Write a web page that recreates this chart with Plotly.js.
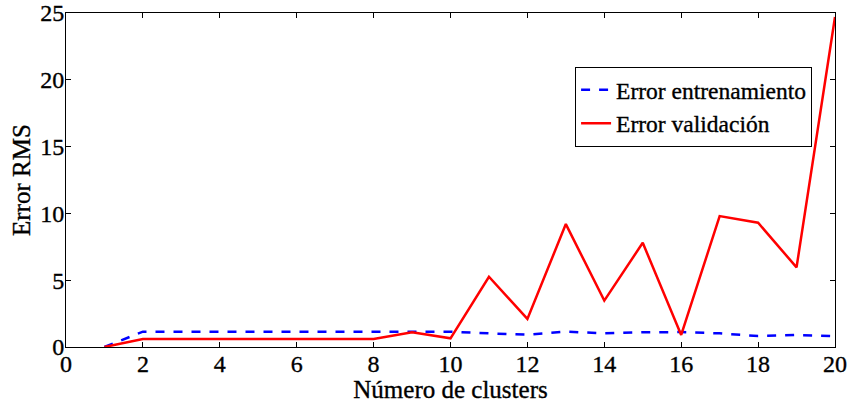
<!DOCTYPE html>
<html>
<head>
<meta charset="utf-8">
<script src="https://cdn.plot.ly/plotly-3.0.1.min.js"></script>
<style>html,body{margin:0;padding:0;background:#fff;}#chart{width:849px;height:403px;}
#chart text{stroke:#000;stroke-width:0.35px;}</style>
</head>
<body>
<div id="chart"></div>
<script>
const clusters = [1,2,3,4,5,6,7,8,9,10,11,12,13,14,15,16,17,18,19,20];
const errorEntrenamiento = [0,1.15,1.15,1.15,1.15,1.15,1.14,1.12,1.12,1.15,1.02,0.92,1.15,1.02,1.1,1.12,1.02,0.82,0.9,0.82];
const errorValidacion = [0,0.6,0.6,0.6,0.6,0.62,0.6,0.6,1.1,0.65,5.26,2.1,9.2,3.47,7.8,0.9,9.8,9.3,5.96,24.7];
const xTicks = [0,2,4,6,8,10,12,14,16,18,20];
const yTicks = [0,5,10,15,20,25];

const family = '"Liberation Serif", "Times New Roman", serif';
const font = {family: family, size: 25, color: '#000'};
const tickFont = {family: family, size: 24, color: '#000'};
const legendFont = {family: family, size: 23.5, color: '#000'};

const traces = [
  {x: clusters, y: errorEntrenamiento, name: 'Error entrenamiento', mode: 'lines',
   line: {color: '#0000ff', width: 2.5, dash: 'dash'}},
  {x: clusters, y: errorValidacion, name: 'Error validación', mode: 'lines',
   line: {color: '#ff0000', width: 2.5}}
];

const axisCommon = {showline: true, linecolor: '#000', linewidth: 1, mirror: 'ticks',
  ticks: 'inside', ticklen: 5, tickcolor: '#000', showgrid: false, zeroline: false,
  tickfont: tickFont};

const layout = {
  width: 849, height: 403,
  margin: {l: 66, r: 14, t: 13, b: 56},
  paper_bgcolor: '#fff', plot_bgcolor: '#fff',
  font: font,
  showlegend: true,
  legend: {x: 0.662, y: 0.719, xanchor: 'left', yanchor: 'middle',
    bordercolor: '#000', borderwidth: 1, bgcolor: '#fff', font: legendFont,
    itemwidth: 30, tracegroupgap: 0},
  xaxis: Object.assign({}, axisCommon, {range: [0, 20], tickvals: xTicks, ticktext: xTicks.map(String),
    ticklabelstandoff: -5,
    title: {text: 'Número de clusters', font: font, standoff: 0}}),
  yaxis: Object.assign({}, axisCommon, {range: [0, 25], tickvals: yTicks, ticktext: yTicks.map(String),
    ticklabelstandoff: -4,
    title: {text: 'Error RMS', font: font, standoff: 2}})
};

Plotly.newPlot('chart', traces, layout, {displayModeBar: false, staticPlot: true});
</script>
</body>
</html>
